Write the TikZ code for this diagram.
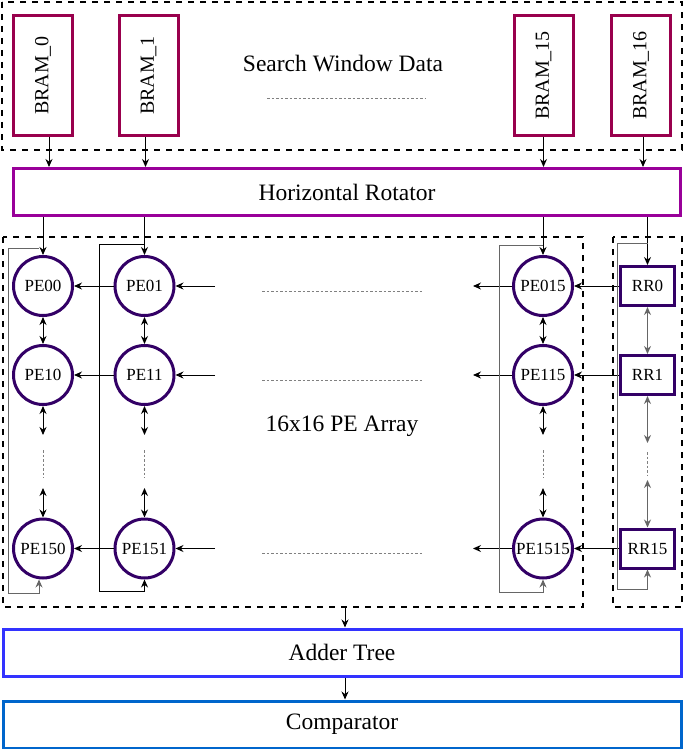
\documentclass[tikz,border=0pt]{standalone}
\usepackage{fontspec}
\setmainfont{Liberation Serif}
\usepackage{graphicx}
\usetikzlibrary{positioning, arrows.meta, calc}

\definecolor{bramcol}{RGB}{153,0,77}
\definecolor{hrcol}{RGB}{153,0,153}
\definecolor{pecol}{RGB}{51,0,102}
\definecolor{addcol}{RGB}{51,51,255}
\definecolor{cmpcol}{RGB}{0,102,204}

\begin{document}
\begin{tikzpicture}[
        x=1pt, y=-1pt,
        bram/.style={
            draw=bramcol, line width=3pt,
            minimum width=59pt, minimum height=120pt,
            inner sep=0pt, font=\fontsize{20}{24}\selectfont
        },
        bar/.style={
            line width=3pt, minimum width=667pt, minimum height=47pt,
            inner sep=0pt, font=\fontsize{23.5}{28}\selectfont
        },
        pe/.style={
            circle, draw=pecol, line width=3pt, minimum size=59pt,
            inner sep=0pt, font=\fontsize{17}{20}\selectfont
        },
        rr/.style={
            draw=pecol, line width=3pt,
            minimum width=54pt, minimum height=39pt,
            inner sep=0pt, font=\fontsize{17}{20}\selectfont
        },
        grp/.style={draw, line width=2pt, dash pattern=on 6pt off 6pt},
        arr/.style={-{Stealth[length=8pt, width=7pt]}, line width=1pt},
        darr/.style={{Stealth[length=8pt, width=7pt]}-{Stealth[length=8pt, width=7pt]}, line width=1pt},
        fbgray/.style={draw=black!60},
        dotline/.style={draw=gray, line width=1pt, dash pattern=on 2.5pt off 2pt},
        title/.style={font=\fontsize{23.5}{28}\selectfont}
    ]
    \useasboundingbox (0,0) rectangle (684,749);

    % Search window data
    \draw[grp] (2,2) rectangle (682,150);
    \node[title] (swd) at (343,64) {Search Window Data};
    \draw[dotline] (267,99) -- (426,99);
    \node[bram] (BRAM0) at (43,75.5) {\rotatebox{90}{BRAM\_0}};
    \node[bram] (BRAM1) at (148.5,75.5) {\rotatebox{90}{BRAM\_1}};
    \node[bram] (BRAM15) at (543.5,75.5) {\rotatebox{90}{BRAM\_15}};
    \node[bram] (BRAM16) at (641,75.5) {\rotatebox{90}{BRAM\_16}};

    % Horizontal rotator
    \node[bar, draw=hrcol] (HR) at (347,192) {Horizontal Rotator};
    \foreach \b/\dx in {0/6, 1/-3, 15/0, 16/2}
        \draw[arr] ($(BRAM\b.south)+(\dx,0)$) -- ($(BRAM\b.south |- HR.north)+(\dx,0)$);

    % PE array and RR column
    \draw[grp] (3,237) rectangle (583,607);
    \draw[grp] (613,237) rectangle (682,607);
    \node[title] (arr16) at (342,426) {16x16 PE Array};

    \foreach \r/\y in {0/286, 1/375, 15/548.5} {
        \node[pe] (PE\r0) at (43,\y) {PE\r0};
        \node[pe] (PE\r1) at (144.5,\y) {PE\r1};
        \node[pe] (PE\r15) at (543,\y) {PE\r15};
        \node[rr] (RR\r) at (647.5,\y) {RR\r};
        \coordinate (in\r) at (215,\y);
        \coordinate (out\r) at (473,\y);
        \draw[arr] (PE\r1) -- (PE\r0);
        \draw[arr] (in\r) -- (PE\r1);
        \draw[arr] (PE\r15) -- (out\r);
        \draw[arr] (RR\r) -- (PE\r15);
        \draw[dotline] (262,\y+5) -- (422,\y+5);
    }

    % columns
    \foreach \c/\x in {0/43, 1/144.5, 15/543} {
        \coordinate (dn\c) at (\x,435);
        \coordinate (up\c) at (\x,488);
        \draw[arr] (PE0\c |- HR.south) -- (PE0\c);
        \draw[darr] (PE0\c) -- (PE1\c);
        \draw[darr] (PE1\c) -- (dn\c);
        \draw[dotline] (\x,450) -- (\x,478);
        \draw[darr] (up\c) -- (PE15\c);
    }
    \coordinate (rdn) at (647.5,443);
    \coordinate (rup) at (647.5,480);
    \draw[arr] (RR0 |- HR.south) -- (RR0);
    \draw[darr, fbgray] (RR0) -- (RR1);
    \draw[darr, fbgray] (RR1) -- (rdn);
    \draw[dotline] (647.5,452) -- (647.5,475);
    \draw[darr, fbgray] (rup) -- (RR15);

    % feedback loops
    \draw[arr, fbgray] ([xshift=-4pt]PE00.north) ++(0,-7) -| (8,593) -| ([xshift=-4pt]PE150.south);
    \draw[arr] (PE01.north) ++(0,-11) -| (99,591) -| (PE151.south);
    \draw[arr, fbgray] (PE015.north) ++(0,-10) -| (499,592) -| (PE1515.south);
    \draw[arr, fbgray] (RR0.north) ++(0,-22) -| (617,589) -| (RR15.south);

    % Adder tree and comparator
    \node[bar, draw=addcol, minimum width=678pt] (adder) at (342,652.5) {Adder Tree};
    \node[bar, draw=cmpcol, minimum width=678pt, below=22pt of adder] (cmp) {Comparator};
    \coordinate (grpout) at (345,607);
    \draw[arr] (grpout) -- (grpout |- adder.north);
    \draw[arr] (adder.south -| grpout) -- (cmp.north -| grpout);

\end{tikzpicture}
\end{document}
